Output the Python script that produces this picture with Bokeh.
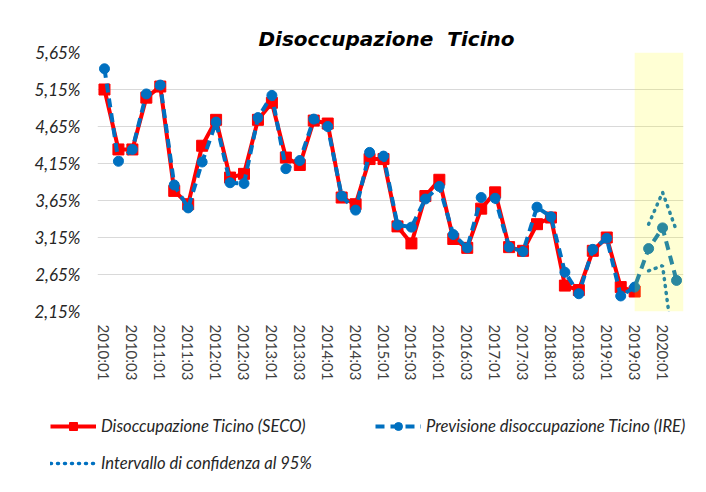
from bokeh.plotting import figure
from bokeh.layouts import column, row
from bokeh.models import Range1d, FixedTicker, BoxAnnotation, Legend, LegendItem
from bokeh.embed import file_html
from bokeh.resources import INLINE

quarters = [
    "2010:01", "2010:02", "2010:03", "2010:04",
    "2011:01", "2011:02", "2011:03", "2011:04",
    "2012:01", "2012:02", "2012:03", "2012:04",
    "2013:01", "2013:02", "2013:03", "2013:04",
    "2014:01", "2014:02", "2014:03", "2014:04",
    "2015:01", "2015:02", "2015:03", "2015:04",
    "2016:01", "2016:02", "2016:03", "2016:04",
    "2017:01", "2017:02", "2017:03", "2017:04",
    "2018:01", "2018:02", "2018:03", "2018:04",
    "2019:01", "2019:02", "2019:03", "2019:04",
    "2020:01", "2020:02",
]

seco = [
    5.15, 4.34, 4.34, 5.04,
    5.19, 3.78, 3.60, 4.39,
    4.74, 3.96, 4.01, 4.74,
    4.97, 4.23, 4.13, 4.73,
    4.69, 3.69, 3.60, 4.21,
    4.21, 3.30, 3.07, 3.71,
    3.93, 3.13, 3.01, 3.54,
    3.76, 3.02, 2.97, 3.33,
    3.42, 2.50, 2.44, 2.97,
    3.15, 2.48, 2.42,
]

ire = [
    5.43, 4.18, 4.34, 5.09,
    5.21, 3.86, 3.55, 4.17,
    4.71, 3.89, 3.88, 4.77,
    5.07, 4.08, 4.19, 4.75,
    4.65, 3.71, 3.52, 4.30,
    4.25, 3.32, 3.29, 3.67,
    3.84, 3.19, 3.01, 3.69,
    3.68, 3.02, 2.96, 3.56,
    3.43, 2.68, 2.39, 2.99,
    3.14, 2.36, 2.48, 3.00,
    3.28, 2.57,
]

ci_quarters = ["2019:04", "2020:01", "2020:02"]
ci_upper = [3.33, 3.76, 3.24]
ci_lower = [2.70, 2.77, 1.35]

forecast_start = "2019:03"

y_ticks = [2.15, 2.65, 3.15, 3.65, 4.15, 4.65, 5.15, 5.65]
y_tick_labels = ["2,15%", "2,65%", "3,15%", "3,65%", "4,15%", "4,65%", "5,15%", "5,65%"]

x_tick_labels = quarters[::2]

legend_labels = ["Disoccupazione Ticino (SECO)",
                 "Previsione disoccupazione Ticino (IRE)",
                 "Intervallo di confidenza al 95%"]

RED = "#FF0000"
BLUE = "#0070C0"

x_all = list(range(len(quarters)))
x_seco = x_all[:len(seco)]
x_ire = x_all[:len(ire)]
x_ci = [quarters.index(q) for q in ci_quarters]

p = figure(width=706, height=388, output_backend="svg", toolbar_location=None,
           x_range=Range1d(-0.5, len(quarters) - 0.5),
           y_range=Range1d(y_ticks[0], y_ticks[-1]),
           min_border_left=97, min_border_right=23, min_border_top=52, min_border_bottom=77)

p.outline_line_color = None
p.background_fill_color = "white"
p.border_fill_color = "white"

p.title.text = "Disoccupazione\u00a0 Ticino"
p.title.text_font = "DejaVu Sans"
p.title.text_font_style = "bold italic"
p.title.text_font_size = "20px"
p.title.align = "left"
p.title.offset = 161
p.title.text_color = "black"
p.title.standoff = 4

# axes
p.xaxis.ticker = FixedTicker(ticks=x_all[::2])
p.xaxis.major_label_overrides = {i: lab for i, lab in zip(x_all[::2], x_tick_labels)}
p.xaxis.major_label_orientation = "vertical"
p.xaxis.major_label_text_font = "Lato"
p.xaxis.major_label_text_font_size = "15px"
p.xaxis.major_label_text_color = "#404040"
p.xaxis.major_label_standoff = 7
p.xaxis.axis_line_color = None
p.xaxis.major_tick_line_color = None
p.xaxis.minor_tick_line_color = None

p.yaxis.ticker = FixedTicker(ticks=y_ticks)
p.yaxis.major_label_overrides = {t: lab for t, lab in zip(y_ticks, y_tick_labels)}
p.yaxis.major_label_text_font = "Lato"
p.yaxis.major_label_text_font_style = "italic"
p.yaxis.major_label_text_font_size = "17px"
p.yaxis.major_label_text_color = "#262626"
p.yaxis.major_label_standoff = 11
p.yaxis.axis_line_color = None
p.yaxis.major_tick_line_color = None
p.yaxis.minor_tick_line_color = None

p.xgrid.grid_line_color = None
p.ygrid.grid_line_color = "#D9D9D9"
p.ygrid.grid_line_width = 1

# series
red_line = dict(line_color=RED, line_width=4, line_join="round")
red_mark = dict(marker="square", size=11, fill_color=RED, line_color=RED)
blue_line = dict(line_color=BLUE, line_width=4, line_dash="9 6")
blue_mark = dict(marker="circle", size=10, fill_color=BLUE, line_color=BLUE)
ci_line = dict(line_color=BLUE, line_width=3.5, line_dash="1 6", line_cap="round")

p.line(x_seco, seco, **red_line)
p.scatter(x_seco, seco, **red_mark)
p.line(x_ire, ire, **blue_line)
p.scatter(x_ire, ire, **blue_mark)
p.line(x_ci, ci_upper, **ci_line)
p.line(x_ci, ci_lower, **ci_line)

band = BoxAnnotation(left=quarters.index(forecast_start), right=len(quarters) - 0.5,
                     fill_color="#FFFF00", fill_alpha=0.17, line_color=None)
p.add_layout(band)

# legend panel: a strip below the chart holding the legend; its renderers carry the
# same series but its ranges keep them out of view, so only the legend is seen
lg = figure(width=706, height=104, output_backend="svg", toolbar_location=None,
            x_range=Range1d(-3, -2), y_range=Range1d(-3, -2),
            x_axis_location=None, y_axis_location=None,
            min_border_left=0, min_border_right=0, min_border_top=0, min_border_bottom=0)
lg.grid.visible = False
lg.outline_line_color = None
lg.border_fill_color = "white"
lg.background_fill_color = "white"

l1 = lg.line(x_seco, seco, **red_line)
s1 = lg.scatter(x_seco, seco, **red_mark)
l2 = lg.line(x_ire, ire, **blue_line)
s2 = lg.scatter(x_ire, ire, **blue_mark)
l3 = lg.line(x_ci, ci_upper, **ci_line)

legend = Legend(items=[
    LegendItem(label=legend_labels[0], renderers=[l1, s1]),
    LegendItem(label=legend_labels[1], renderers=[l2, s2]),
    LegendItem(label=legend_labels[2], renderers=[l3]),
], location=(50, 11), orientation="horizontal", ncols=2,
    glyph_width=46, glyph_height=20, label_standoff=5, label_width=274, label_height=37,
    spacing=0, padding=0, margin=0,
    label_text_font="Lato", label_text_font_style="italic", label_text_font_size="16.6px",
    label_text_color="#262626", border_line_color=None, background_fill_alpha=0)
lg.add_layout(legend)

layout = column(p, row(lg, spacing=0), spacing=0)
open("out.html", "w").write(file_html(layout, INLINE))
